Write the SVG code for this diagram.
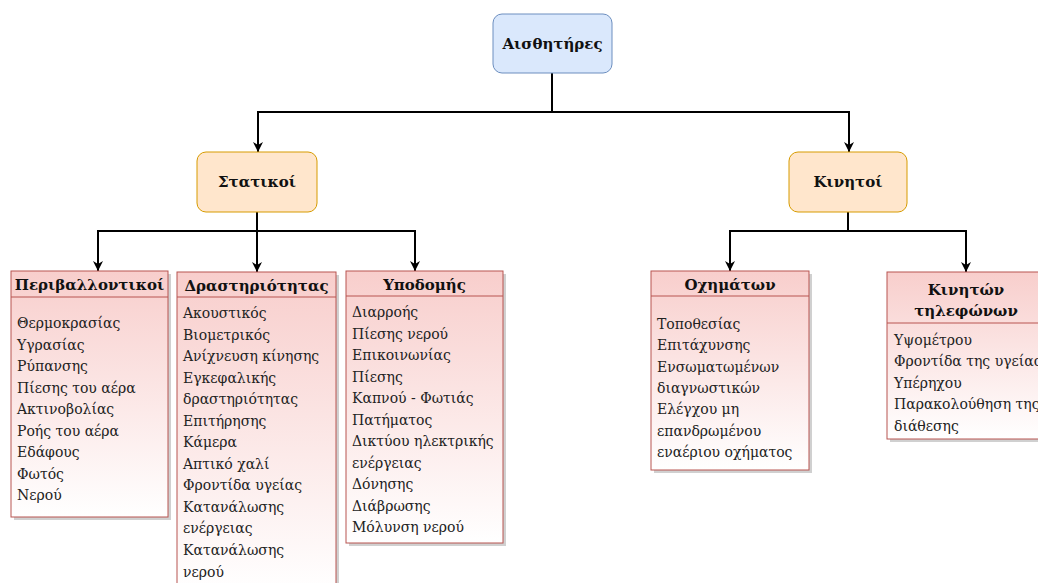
<svg xmlns="http://www.w3.org/2000/svg" width="1038" height="583" viewBox="0 0 1038 583">
  <defs>
    <linearGradient id="listFill" x1="0" y1="0" x2="0" y2="1">
      <stop offset="0" stop-color="#f8cecc"/>
      <stop offset="1" stop-color="#ffffff"/>
    </linearGradient>
    <marker id="arrow" viewBox="0 0 12 12" refX="11" refY="6" markerWidth="12" markerHeight="12" markerUnits="userSpaceOnUse" orient="auto">
      <path d="M1,1 L11,6 L1,11 L4,6 Z" fill="#000"/>
    </marker>
  </defs>
  <style>
    .root { fill: #dae8fc; stroke: #6c8ebf; stroke-width: 1; }
    .cat { fill: #ffe6cc; stroke: #d79b00; stroke-width: 1; }
    .list { fill: url(#listFill); stroke: #b85450; stroke-width: 1; }
    .shadow { fill: #d0d0d0; }
    .sep { stroke: #b85450; stroke-width: 1; fill: none; }
    .edge { stroke: #000; stroke-width: 2; fill: none; marker-end: url(#arrow); }
    .title { font-family: "DejaVu Serif", "Liberation Serif", serif; font-weight: bold; font-size: 15px; fill: #111; text-anchor: middle; }
    .item { font-family: "DejaVu Serif", "Liberation Serif", serif; font-size: 14px; fill: #222; }
  </style>
  <rect width="1038" height="583" fill="#ffffff"/>

  <!-- connectors -->
  <g id="connectors">
    <path class="edge" d="M552,73 V112 H258 V152"/>
    <path class="edge" d="M552,73 V112 H849 V152"/>
    <path class="edge" d="M257,212 V231 H98 V271"/>
    <path class="edge" d="M257,212 V272"/>
    <path class="edge" d="M257,212 V231 H415 V271"/>
    <path class="edge" d="M848,212 V231 H730 V271"/>
    <path class="edge" d="M848,212 V231 H966 V272"/>
  </g>

  <!-- top level -->
  <g id="aisthitires">
    <rect class="root" x="493" y="14" width="119" height="59" rx="9"/>
    <text class="title" x="552.5" y="49">Αισθητήρες</text>
  </g>

  <g id="statikoi">
    <rect class="cat" x="197" y="152" width="120" height="60" rx="9"/>
    <text class="title" x="257" y="187">Στατικοί</text>
  </g>

  <g id="kinitoi">
    <rect class="cat" x="789" y="152" width="118" height="60" rx="9"/>
    <text class="title" x="848" y="187">Κινητοί</text>
  </g>

  <!-- static sensor lists -->
  <g id="perivallontikoi">
    <rect class="shadow" x="14" y="274" width="157" height="246"/>
    <rect class="list" x="11" y="271" width="157" height="246"/>
    <line class="sep" x1="11" y1="297" x2="168" y2="297"/>
    <text class="title" x="89.5" y="290">Περιβαλλοντικοί</text>
    <text class="item" x="17" y="328">Θερμοκρασίας</text>
    <text class="item" x="17" y="350">Υγρασίας</text>
    <text class="item" x="17" y="371">Ρύπανσης</text>
    <text class="item" x="17" y="393">Πίεσης του αέρα</text>
    <text class="item" x="17" y="414">Ακτινοβολίας</text>
    <text class="item" x="17" y="436">Ροής του αέρα</text>
    <text class="item" x="17" y="457">Εδάφους</text>
    <text class="item" x="17" y="479">Φωτός</text>
    <text class="item" x="17" y="500">Νερού</text>
  </g>

  <g id="drastiriotitas">
    <rect class="shadow" x="180" y="275" width="159" height="320"/>
    <rect class="list" x="177" y="272" width="159" height="320"/>
    <line class="sep" x1="177" y1="297" x2="336" y2="297"/>
    <text class="title" x="256.5" y="291">Δραστηριότητας</text>
    <text class="item" x="183" y="318">Ακουστικός</text>
    <text class="item" x="183" y="340">Βιομετρικός</text>
    <text class="item" x="183" y="361">Ανίχνευση κίνησης</text>
    <text class="item" x="183" y="383">Εγκεφαλικής</text>
    <text class="item" x="183" y="404">δραστηριότητας</text>
    <text class="item" x="183" y="426">Επιτήρησης</text>
    <text class="item" x="183" y="447">Κάμερα</text>
    <text class="item" x="183" y="469">Απτικό χαλί</text>
    <text class="item" x="183" y="490">Φροντίδα υγείας</text>
    <text class="item" x="183" y="512">Κατανάλωσης</text>
    <text class="item" x="183" y="533">ενέργειας</text>
    <text class="item" x="183" y="555">Κατανάλωσης</text>
    <text class="item" x="183" y="577">νερού</text>
  </g>

  <g id="ypodomis">
    <rect class="shadow" x="349" y="274" width="157" height="272"/>
    <rect class="list" x="346" y="271" width="157" height="272"/>
    <line class="sep" x1="346" y1="296" x2="503" y2="296"/>
    <text class="title" x="424.5" y="290">Υποδομής</text>
    <text class="item" x="352" y="317">Διαρροής</text>
    <text class="item" x="352" y="339">Πίεσης νερού</text>
    <text class="item" x="352" y="360">Επικοινωνίας</text>
    <text class="item" x="352" y="382">Πίεσης</text>
    <text class="item" x="352" y="403">Καπνού - Φωτιάς</text>
    <text class="item" x="352" y="425">Πατήματος</text>
    <text class="item" x="352" y="446">Δικτύου ηλεκτρικής</text>
    <text class="item" x="352" y="468">ενέργειας</text>
    <text class="item" x="352" y="489">Δόνησης</text>
    <text class="item" x="352" y="511">Διάβρωσης</text>
    <text class="item" x="352" y="532">Μόλυνση νερού</text>
  </g>

  <!-- mobile sensor lists -->
  <g id="oximaton">
    <rect class="shadow" x="654" y="274" width="158" height="199"/>
    <rect class="list" x="651" y="271" width="158" height="199"/>
    <line class="sep" x1="651" y1="296" x2="809" y2="296"/>
    <text class="title" x="730" y="290">Οχημάτων</text>
    <text class="item" x="657" y="329">Τοποθεσίας</text>
    <text class="item" x="657" y="350">Επιτάχυνσης</text>
    <text class="item" x="657" y="372">Ενσωματωμένων</text>
    <text class="item" x="657" y="393">διαγνωστικών</text>
    <text class="item" x="657" y="414">Ελέγχου μη</text>
    <text class="item" x="657" y="436">επανδρωμένου</text>
    <text class="item" x="657" y="457">εναέριου οχήματος</text>
  </g>

  <g id="kiniton-tilefonon">
    <rect class="shadow" x="890" y="275" width="158" height="167"/>
    <rect class="list" x="887" y="272" width="158" height="167"/>
    <line class="sep" x1="887" y1="323" x2="1045" y2="323"/>
    <text class="title" x="966" y="295">Κινητών</text>
    <text class="title" x="966" y="316">τηλεφώνων</text>
    <text class="item" x="894" y="345">Υψομέτρου</text>
    <text class="item" x="894" y="366">Φροντίδα της υγείας</text>
    <text class="item" x="894" y="388">Υπέρηχου</text>
    <text class="item" x="894" y="409">Παρακολούθηση της</text>
    <text class="item" x="894" y="431">διάθεσης</text>
  </g>
</svg>
